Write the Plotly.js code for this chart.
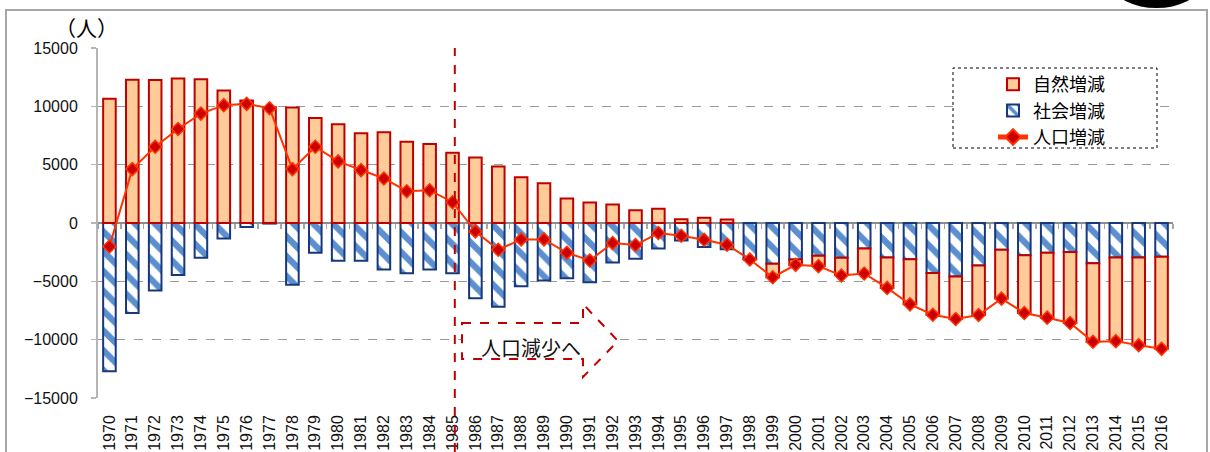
<!DOCTYPE html>
<html>
<head>
<meta charset="utf-8">
<script src="https://cdn.plot.ly/plotly-3.0.1.min.js"></script>
<style>html,body{margin:0;padding:0;background:#fff;}#chart{width:1210px;height:452px;}</style>
</head>
<body>
<div id="chart"></div>
<script>
const years = ["1970","1971","1972","1973","1974","1975","1976","1977","1978","1979",
  "1980","1981","1982","1983","1984","1985","1986","1987","1988","1989",
  "1990","1991","1992","1993","1994","1995","1996","1997","1998","1999",
  "2000","2001","2002","2003","2004","2005","2006","2007","2008","2009",
  "2010","2011","2012","2013","2014","2015","2016"];

// 自然増減 (natural change)
const naturalChange = [10640,12270,12260,12390,12330,11360,10500,9920,9890,9000,
  8460,7690,7770,6970,6770,6020,5620,4850,3930,3410,
  2090,1750,1580,1090,1230,320,460,290,-50,-1150,
  -500,-850,-1470,-2150,-2610,-3870,-3585,-3640,-4250,-4185,
  -4960,-5565,-6080,-6740,-7170,-7515,-7885];

// 社会増減 (social change)
const socialChange = [-12700,-7710,-5790,-4450,-2980,-1320,-340,-50,-5300,-2550,
  -3240,-3240,-3990,-4300,-3990,-4300,-6450,-7170,-5420,-4930,
  -4730,-5075,-3385,-3070,-2180,-1490,-2065,-2240,-3070,-3500,
  -3125,-2810,-2980,-2180,-2955,-3100,-4275,-4590,-3640,-2295,
  -2755,-2550,-2495,-3440,-2955,-2955,-2900];

// 人口増減 (total population change)
const totalChange = [-2010,4620,6540,8060,9380,10100,10210,9840,4620,6540,
  5280,4530,3815,2725,2810,1780,-720,-2295,-1405,-1405,
  -2550,-3210,-1720,-1890,-860,-1090,-1435,-1865,-3125,-4650,
  -3585,-3700,-4500,-4330,-5565,-6970,-7860,-8230,-7890,-6480,
  -7715,-8115,-8575,-10180,-10125,-10470,-10785];

const seriesNames = ["自然増減","社会増減","人口増減"];
const unitLabel = "（人）";
const arrowLabel = "人口減少へ";

const cjk = '"Noto Sans CJK JP", "Noto Sans", sans-serif';
const num = '"Liberation Sans", Arial, sans-serif';

const traces = [
  {
    type: 'bar', name: seriesNames[1], x: years, y: socialChange,
    width: 0.55, legendrank: 2,
    marker: {
      color: '#ffffff',
      line: {color: '#17387a', width: 2},
      pattern: {shape: '\\', fgcolor: '#5b8fd0', bgcolor: '#ffffff', size: 14, solidity: 0.45}
    },
    hoverinfo: 'x+y'
  },
  {
    type: 'bar', name: seriesNames[0], x: years, y: naturalChange,
    width: 0.55, legendrank: 1,
    marker: {color: '#ffcc99', line: {color: '#c00000', width: 2}},
    hoverinfo: 'x+y'
  },
  {
    type: 'scatter', mode: 'lines+markers', name: seriesNames[2], x: years, y: totalChange,
    legendrank: 3,
    line: {color: '#ff3300', width: 2},
    marker: {symbol: 'diamond', size: 10, color: '#cc0000', line: {color: '#ff3300', width: 1.5}},
    hoverinfo: 'x+y'
  },
  {
    type: 'scatter', mode: 'lines', x: years, y: years.map(() => null),
    xaxis: 'x2', showlegend: false, hoverinfo: 'skip'
  }
];

const L = 98, R = 37, T = 48, B = 54, W = 1210, H = 452;
const pw = W - L - R, ph = H - T - B;
const px = v => (v - L) / pw;
const py = v => (H - B - v) / ph;

const arrowPath = 'M' + px(462) + ',' + py(323) + ' L' + px(583) + ',' + py(323) +
  ' L' + px(583) + ',' + py(304) + ' L' + px(618) + ',' + py(341) +
  ' L' + px(583) + ',' + py(377) + ' L' + px(583) + ',' + py(359) +
  ' L' + px(462) + ',' + py(359) + ' Z';

const xRange = [-0.5, years.length - 0.5];

const layout = {
  width: W, height: H,
  margin: {l: L, r: R, t: T, b: B, pad: 0},
  paper_bgcolor: '#ffffff', plot_bgcolor: '#ffffff',
  barmode: 'relative',
  showlegend: true,
  legend: {
    x: px(993), y: py(66), xanchor: 'left', yanchor: 'top',
    bgcolor: 'rgba(0,0,0,0)', borderwidth: 0,
    font: {family: cjk, size: 18, color: '#000'},
    itemwidth: 30, tracegroupgap: 0, traceorder: 'normal', itemsizing: 'constant', valign: 'middle'
  },
  xaxis: {
    type: 'category', categoryorder: 'array', categoryarray: years, range: xRange,
    tickangle: -90, showgrid: false, showline: false, ticks: '',
    tickfont: {family: num, size: 16, color: '#111'},
    ticklabelstandoff: 13, zeroline: false, fixedrange: true
  },
  xaxis2: {
    type: 'category', categoryorder: 'array', categoryarray: years, range: xRange,
    overlaying: 'x', anchor: 'free', position: 0.5,
    showticklabels: false, showline: false, showgrid: false,
    ticks: 'outside', ticklen: 5, tickwidth: 1.5, tickcolor: '#a6a6a6',
    tickson: 'boundaries', zeroline: false, fixedrange: true
  },
  yaxis: {
    range: [-15000, 15000], dtick: 5000, tick0: 0, tickformat: 'd',
    showgrid: true, gridcolor: '#9a9a9a', griddash: 'dash', gridwidth: 1,
    zeroline: true, zerolinecolor: '#8c8c8c', zerolinewidth: 2.5,
    showline: true, linecolor: '#b5b5b5', linewidth: 2,
    ticks: 'outside', ticklen: 5, tickcolor: '#b5b5b5', tickwidth: 1.5,
    tickfont: {family: num, size: 16, color: '#111'},
    ticklabelstandoff: 10, fixedrange: true
  },
  shapes: [
    {type: 'rect', xref: 'paper', yref: 'paper', x0: px(6), x1: px(1207), y0: py(470), y1: py(10),
     line: {color: '#a6a6a6', width: 2}, fillcolor: 'rgba(0,0,0,0)', layer: 'below'},
    {type: 'circle', xref: 'paper', yref: 'paper', x0: px(1115), x1: px(1198), y0: py(8), y1: py(-34),
     line: {width: 0}, fillcolor: '#000000', layer: 'above'},
    {type: 'line', xref: 'x', yref: 'paper', x0: 15.1, x1: 15.1, y0: py(470), y1: 1,
     line: {color: '#c00000', width: 2, dash: 'dash'}, layer: 'above'},
    {type: 'path', xref: 'paper', yref: 'paper', path: arrowPath,
     line: {color: '#c00000', width: 2, dash: 'dash'}, fillcolor: 'rgba(255,255,255,1)', layer: 'above'},
    {type: 'rect', xref: 'paper', yref: 'paper', x0: px(953), x1: px(1157), y0: py(148), y1: py(68),
     line: {color: '#000000', width: 1, dash: 'dot'}, fillcolor: '#ffffff', layer: 'above'}
  ],
  annotations: [
    {xref: 'paper', yref: 'paper', x: px(86), y: py(27), text: unitLabel, showarrow: false,
     xanchor: 'center', yanchor: 'middle', font: {family: cjk, size: 21, color: '#000'}},
    {xref: 'paper', yref: 'paper', x: px(531), y: py(347), text: arrowLabel, showarrow: false,
     xanchor: 'center', yanchor: 'middle', font: {family: cjk, size: 20, color: '#111'}}
  ]
};

Plotly.newPlot('chart', traces, layout, {displayModeBar: false, staticPlot: true});
</script>
</body>
</html>
